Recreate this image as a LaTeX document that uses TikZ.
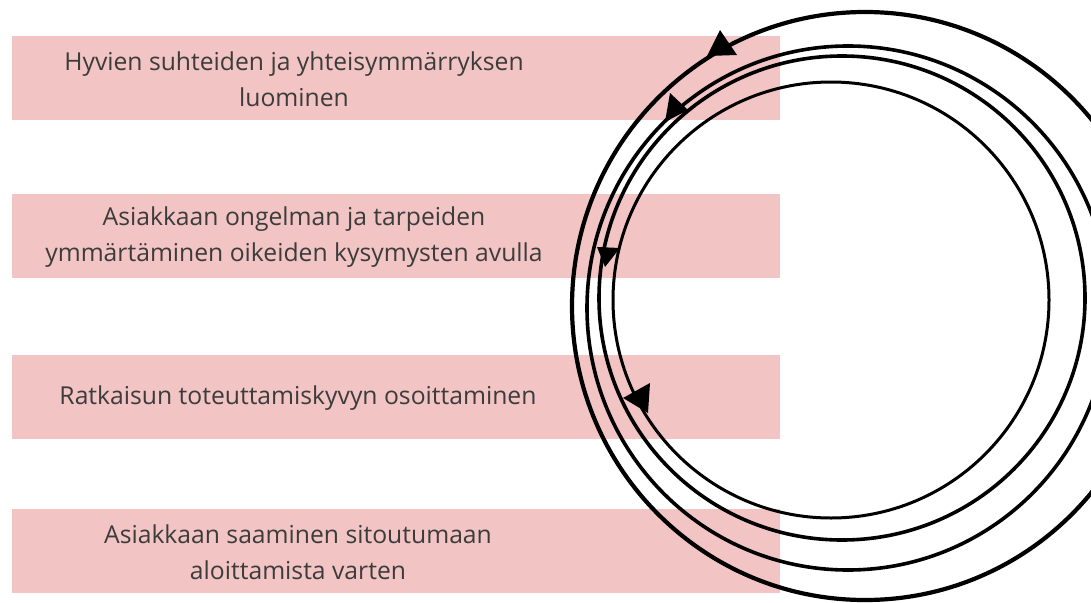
\documentclass[tikz,border=0pt]{standalone}
\usepackage{fontspec}
\setmainfont{Open Sans}
\definecolor{barpink}{HTML}{F2C4C4}
\definecolor{textgray}{HTML}{3C3C3C}

\begin{document}
\begin{tikzpicture}[x=1pt, y=-1pt,
   bar/.style={fill=barpink},
   steptext/.style={align=center, text=textgray, inner sep=0pt,
      font=\fontsize{24.7}{36}\selectfont}]

   \useasboundingbox (0,0) rectangle (1091,602);
   \clip (0,0) rectangle (1091,602);

   % palkit
   \fill [bar] (12,36) rectangle (780,120);
   \fill [bar] (12,194) rectangle (780,278);
   \fill [bar] (12,355) rectangle (780,439);
   \fill [bar] (12,509) rectangle (780,593);

   % tekstit
   \node [steptext] (t1) at (294,79) {Hyvien suhteiden ja yhteisymmärryksen\\luominen};
   \node [steptext] (t2) at (294,237) {Asiakkaan ongelman ja tarpeiden\\ymmärtäminen oikeiden kysymysten avulla};
   \node [steptext] (t3) at (298,398) {Ratkaisun toteuttamiskyvyn osoittaminen};
   \node [steptext] (t4) at (298,552) {Asiakkaan saaminen sitoutumaan\\aloittamista varten};

   % renkaat
   \draw [line width=4.2pt] (865,306) ellipse [x radius=293pt, y radius=294pt];
   \draw [line width=3.6pt] (848,308) ellipse [x radius=261pt, y radius=262pt];
   \draw [line width=3.6pt] (842,298) ellipse [x radius=243pt, y radius=242pt];
   \draw [line width=3pt] (831,300) circle [radius=218pt];

   % nuolenkärjet
   \fill (720,30) -- (707,56) -- (737,55) -- cycle;
   \fill (670,93) -- (665,122) -- (688,110) -- cycle;
   \fill (597,247) -- (620,248) -- (605,267) -- cycle;
   \fill (623,398) -- (650,383) -- (648,413) -- cycle;

\end{tikzpicture}
\end{document}
